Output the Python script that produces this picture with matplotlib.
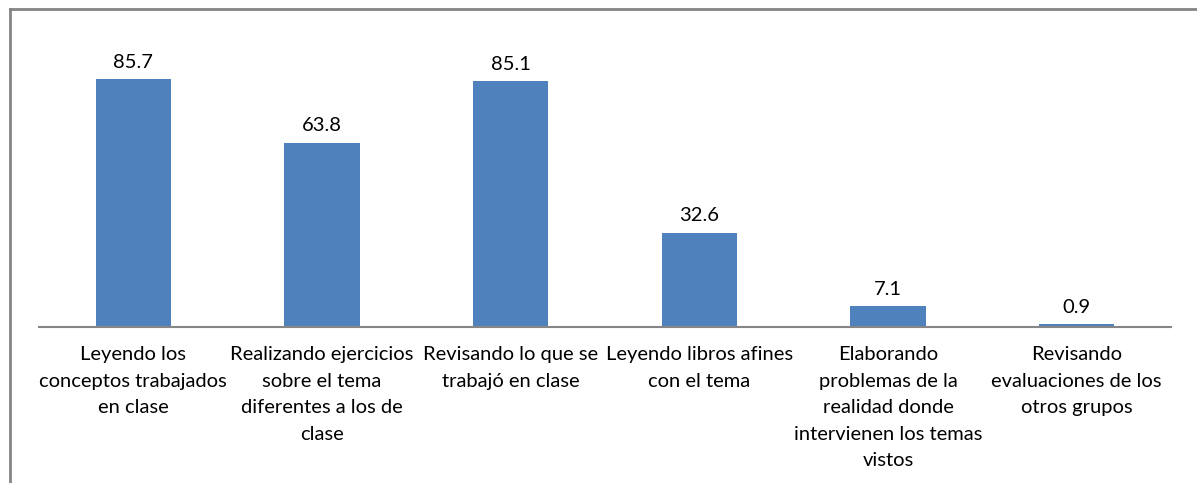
import numpy as np
import matplotlib.pyplot as plt
from matplotlib.lines import Line2D

# Actividades y porcentajes
categorias = [
    "Leyendo los\nconceptos trabajados\nen clase",
    "Realizando ejercicios\nsobre el tema\ndiferentes a los de\nclase",
    "Revisando lo que se\ntrabajó en clase",
    "Leyendo libros afines\ncon el tema",
    "Elaborando\nproblemas de la\nrealidad donde\nintervienen los temas\nvistos",
    "Revisando\nevaluaciones de los\notros grupos",
]
valores = [85.7, 63.8, 85.1, 32.6, 7.1, 0.9]

plt.rcParams['font.family'] = ['Lato', 'DejaVu Sans']

fig = plt.figure(figsize=(11.97, 4.83), dpi=100)
ax = fig.add_axes([39 / 1197, 1 - 327 / 483, 1132 / 1197, 289 / 483])

x = np.arange(len(valores))
bars = ax.bar(x, valores, width=0.4, color='#4F81BD', zorder=2)

for b, v in zip(bars, valores):
    ax.annotate(f"{v:.1f}", (b.get_x() + b.get_width() / 2, v),
                xytext=(0, 6), textcoords='offset points',
                ha='center', va='bottom', fontsize=14.5)

ax.set_xlim(-0.5, len(valores) - 0.5)
ax.set_ylim(0, 100)
ax.set_xticks(x)
ax.set_xticklabels(categorias, fontsize=14.5, linespacing=1.67)
ax.tick_params(axis='x', length=0, pad=14)
ax.set_yticks([])

for s in ['top', 'right', 'left']:
    ax.spines[s].set_visible(False)
ax.spines['bottom'].set_color('#868686')
ax.spines['bottom'].set_linewidth(1.5)

# Marco del gráfico (solo lados superior e izquierdo visibles)
fig.add_artist(Line2D([10 / 1197, 1], [1 - 9 / 483, 1 - 9 / 483],
                      color='#848484', lw=2, transform=fig.transFigure))
fig.add_artist(Line2D([10 / 1197, 10 / 1197], [0, 1 - 9 / 483],
                      color='#848484', lw=2, transform=fig.transFigure))

fig.savefig('out.png', dpi=100, facecolor='white')
